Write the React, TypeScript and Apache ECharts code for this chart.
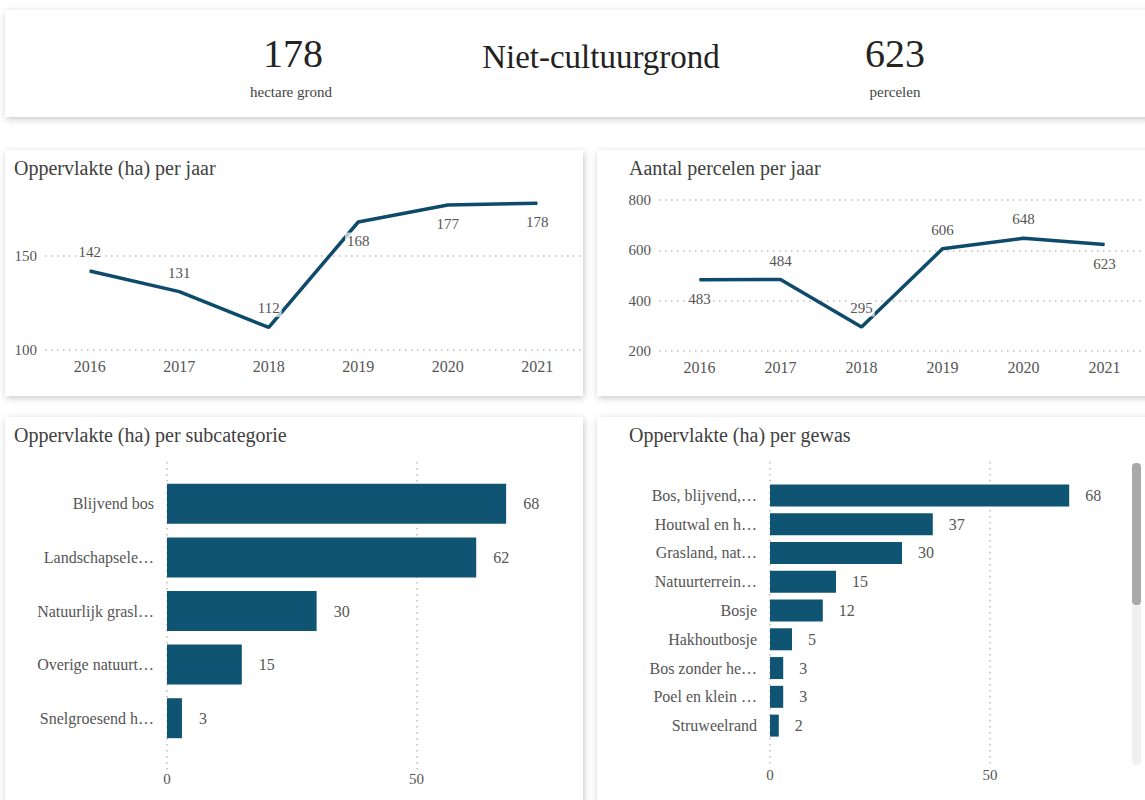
import React, { useEffect, useRef } from "react";
import * as echarts from "echarts";

const years = ["2016", "2017", "2018", "2019", "2020", "2021"];
const areaPerYear = [142, 131, 112, 168, 177, 178];
const parcelsPerYear = [483, 484, 295, 606, 648, 623];
const subcategories = ["Blijvend bos", "Landschapsele…", "Natuurlijk grasl…", "Overige natuurt…", "Snelgroesend h…"];
const subcategoryArea = [68, 62, 30, 15, 3];
const crops = ["Bos, blijvend,…", "Houtwal en h…", "Grasland, nat…", "Natuurterrein…", "Bosje", "Hakhoutbosje", "Bos zonder he…", "Poel en klein …", "Struweelrand"];
const cropArea = [68, 37, 30, 15, 12, 5, 3, 3, 2];
const totalArea = 178;
const totalParcels = 623;
const headerTitle = "Niet-cultuurgrond";
const areaUnit = "hectare grond";
const parcelUnit = "percelen";

const FONT = "'Liberation Serif', 'DejaVu Serif', serif";
const LINE = "#0e4a6b";
const BAR = "#105473";
const LABEL = "#555";
const GRID = "#bdbdbd";

const areaLabelPos = ["top", "top", "top", "bottom", "bottom", "bottom"];
const parcelLabelPos = ["bottom", "top", "top", "top", "top", "bottom"];

export default function App() {
  const ref = useRef<HTMLDivElement>(null);
  useEffect(() => {
    const chart = echarts.init(ref.current!, null, { renderer: "svg" });
    const dotted = { color: GRID, width: 1.5, type: [1.5, 4.5] as any };
    const card = (x: number, y: number, w: number, h: number) => ({
      type: "rect",
      z: -10,
      shape: { x, y, width: w, height: h },
      style: { fill: "#fff", shadowBlur: 7, shadowColor: "rgba(0,0,0,0.22)", shadowOffsetX: 1, shadowOffsetY: 2 },
    });
    const txt = (x: number, y: number, text: string, size: number, color: string, align = "left") => ({
      type: "text",
      x,
      y,
      style: { text, font: `${size}px ${FONT}`, fill: color, align, verticalAlign: "middle" },
    });
    const lineLabel = { show: true, color: LABEL, fontSize: 15, fontFamily: FONT, distance: 10, backgroundColor: "rgba(255,255,255,0.7)", padding: [1, 2] };
    const catAxisLine = (gi: number) => ({
      type: "category",
      gridIndex: gi,
      data: years,
      axisLine: { show: false },
      axisTick: { show: false },
      axisLabel: { color: LABEL, fontSize: 16, fontFamily: FONT, margin: 8 },
    });
    const barCat = (gi: number, data: string[]) => ({
      type: "category",
      gridIndex: gi,
      data,
      inverse: true,
      axisLine: { show: false },
      axisTick: { show: false },
      axisLabel: { color: LABEL, fontSize: 16, fontFamily: FONT, margin: 13 },
    });
    const hiddenVal = (gi: number) => ({ type: "value", gridIndex: gi, min: 0, max: 80, interval: 50, show: false });
    const gridVal = (gi: number, margin: number) => ({
      type: "value",
      gridIndex: gi,
      min: 0,
      max: 80,
      interval: 50,
      axisLine: { show: false },
      axisTick: { show: false },
      axisLabel: { color: LABEL, fontSize: 15, fontFamily: FONT, margin, showMaxLabel: false },
      splitLine: { show: true, lineStyle: dotted, showMaxLine: false },
    });
    const lineSeries = (idx: number, values: number[], pos: string[]) => ({
      type: "line",
      xAxisIndex: idx,
      yAxisIndex: idx,
      data: values.map((v, i) => ({ value: v, label: { position: pos[i] } })),
      symbol: "circle",
      symbolSize: 1,
      showSymbol: true,
      itemStyle: { color: LINE },
      lineStyle: { color: LINE, width: 3.5 },
      label: lineLabel,
      z: 3,
    });
    const option: any = {
      animation: false,
      backgroundColor: "#fff",
      textStyle: { fontFamily: FONT },
      grid: [
        { left: 45, top: 190, width: 537, height: 160 },
        { left: 659, top: 200, width: 489, height: 151 },
        { left: 167, top: 477, width: 399, height: 268 },
        { left: 167, top: 462, width: 399, height: 308 },
        { left: 770, top: 481, width: 352, height: 259 },
        { left: 770, top: 462, width: 352, height: 303 },
      ],
      xAxis: [catAxisLine(0), catAxisLine(1), hiddenVal(2), gridVal(3, 1), hiddenVal(4), gridVal(5, 2)],
      yAxis: [
        {
          type: "value",
          gridIndex: 0,
          min: 100,
          max: 185,
          interval: 50,
          axisLine: { show: false },
          axisTick: { show: false },
          axisLabel: { color: LABEL, fontSize: 15, fontFamily: FONT, margin: 8, showMaxLabel: false },
          splitLine: { lineStyle: dotted, showMaxLine: false },
        },
        {
          type: "value",
          gridIndex: 1,
          min: 200,
          max: 800,
          interval: 200,
          axisLine: { show: false },
          axisTick: { show: false },
          axisLabel: { color: LABEL, fontSize: 15, fontFamily: FONT, margin: 8 },
          splitLine: { lineStyle: dotted },
        },
        barCat(2, subcategories),
        { type: "value", gridIndex: 3, show: false, min: 0, max: 1 },
        barCat(4, crops),
        { type: "value", gridIndex: 5, show: false, min: 0, max: 1 },
      ],
      series: [
        lineSeries(0, areaPerYear, areaLabelPos),
        lineSeries(1, parcelsPerYear, parcelLabelPos),
        {
          type: "bar",
          xAxisIndex: 2,
          yAxisIndex: 2,
          data: subcategoryArea,
          barWidth: 40,
          itemStyle: { color: BAR },
          label: { show: true, position: "right", distance: 17, color: LABEL, fontSize: 16, fontFamily: FONT },
        },
        {
          type: "bar",
          xAxisIndex: 4,
          yAxisIndex: 4,
          data: cropArea,
          barWidth: 22,
          itemStyle: { color: BAR },
          label: { show: true, position: "right", distance: 16, color: LABEL, fontSize: 16, fontFamily: FONT },
        },
      ],
      graphic: [
        card(5, 10, 1145, 107),
        card(5, 150, 578, 246),
        card(597, 150, 560, 246),
        card(5, 417, 578, 400),
        card(597, 417, 560, 400),
        txt(293, 53, String(totalArea), 40, "#252423", "center"),
        txt(291, 92, areaUnit, 15, "#444", "center"),
        txt(601, 57, headerTitle, 33, "#222", "center"),
        txt(895, 53, String(totalParcels), 40, "#252423", "center"),
        txt(895, 92, parcelUnit, 15, "#444", "center"),
        txt(14, 168, "Oppervlakte (ha) per jaar", 20, "#404040"),
        txt(629, 168, "Aantal percelen per jaar", 20, "#404040"),
        txt(14, 435, "Oppervlakte (ha) per subcategorie", 20, "#404040"),
        txt(629, 435, "Oppervlakte (ha) per gewas", 20, "#404040"),
        { type: "rect", shape: { x: 1132, y: 603, width: 9, height: 162, r: 4 }, style: { fill: "#f0f0f0" } },
        { type: "rect", shape: { x: 1132, y: 463, width: 9, height: 142, r: 4 }, style: { fill: "#a9a9a9" } },
      ],
    };
    chart.setOption(option);
    return () => chart.dispose();
  }, []);
  return <div ref={ref} style={{ position: "absolute", left: 0, top: 0, width: 1145, height: 800 }} />;
}
